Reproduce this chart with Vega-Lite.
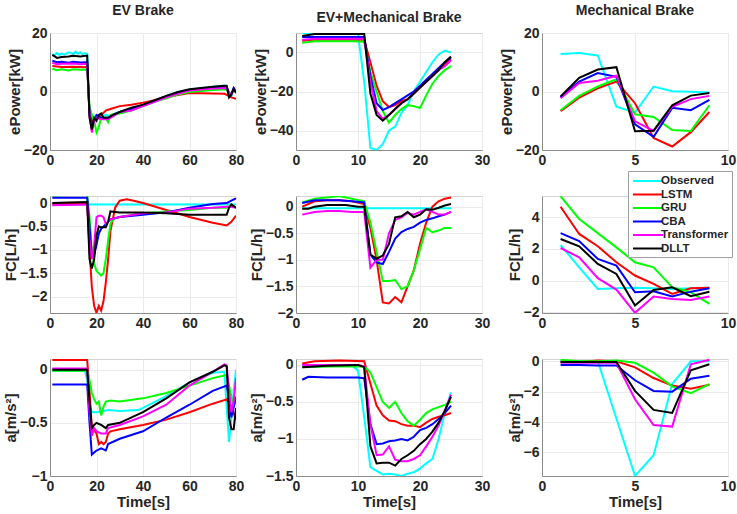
{
"$schema": "https://vega.github.io/schema/vega-lite/v6.json",
"background": "white",
"padding": {"left": 2, "top": 3, "right": 0, "bottom": 0},
"datasets": {
"d": [
{"p":1,"s":"Observed","x":1,"y":12.8},{"p":1,"s":"Observed","x":2,"y":12.3},{"p":1,"s":"Observed","x":3,"y":13.2},{"p":1,"s":"Observed","x":4,"y":12.5},{"p":1,"s":"Observed","x":5,"y":13.0},{"p":1,"s":"Observed","x":6,"y":12.6},{"p":1,"s":"Observed","x":8,"y":13.4},{"p":1,"s":"Observed","x":10,"y":12.8},{"p":1,"s":"Observed","x":11,"y":13.6},{"p":1,"s":"Observed","x":12,"y":12.9},{"p":1,"s":"Observed","x":13,"y":13.4},{"p":1,"s":"Observed","x":14,"y":12.7},{"p":1,"s":"Observed","x":15,"y":13.1},{"p":1,"s":"Observed","x":16,"y":12.8},{"p":1,"s":"Observed","x":17,"y":-8},{"p":1,"s":"Observed","x":18,"y":-10},{"p":1,"s":"Observed","x":19,"y":-8.5},{"p":1,"s":"Observed","x":20,"y":-9},{"p":1,"s":"Observed","x":22,"y":-8.5},{"p":1,"s":"Observed","x":24,"y":-8},{"p":1,"s":"Observed","x":26,"y":-8.5},{"p":1,"s":"Observed","x":28,"y":-7.5},{"p":1,"s":"Observed","x":30,"y":-7},{"p":1,"s":"Observed","x":35,"y":-6},{"p":1,"s":"Observed","x":40,"y":-4.8},{"p":1,"s":"Observed","x":45,"y":-3.2},{"p":1,"s":"Observed","x":50,"y":-1.5},{"p":1,"s":"Observed","x":55,"y":-0.2},{"p":1,"s":"Observed","x":60,"y":0.6},{"p":1,"s":"Observed","x":65,"y":1.2},{"p":1,"s":"Observed","x":70,"y":1.6},{"p":1,"s":"Observed","x":75,"y":2},{"p":1,"s":"Observed","x":76,"y":1.8},{"p":1,"s":"Observed","x":77,"y":-1},{"p":1,"s":"Observed","x":78,"y":-1.5},{"p":1,"s":"Observed","x":79,"y":0.8},{"p":1,"s":"Observed","x":80,"y":0.5},
{"p":1,"s":"LSTM","x":1,"y":8.7},{"p":1,"s":"LSTM","x":5,"y":8.4},{"p":1,"s":"LSTM","x":10,"y":8.5},{"p":1,"s":"LSTM","x":16,"y":8.3},{"p":1,"s":"LSTM","x":17,"y":-7},{"p":1,"s":"LSTM","x":18,"y":-10},{"p":1,"s":"LSTM","x":19,"y":-10},{"p":1,"s":"LSTM","x":20,"y":-9.5},{"p":1,"s":"LSTM","x":22,"y":-8},{"p":1,"s":"LSTM","x":24,"y":-6.5},{"p":1,"s":"LSTM","x":26,"y":-6},{"p":1,"s":"LSTM","x":30,"y":-5},{"p":1,"s":"LSTM","x":35,"y":-4.5},{"p":1,"s":"LSTM","x":40,"y":-3.8},{"p":1,"s":"LSTM","x":45,"y":-3},{"p":1,"s":"LSTM","x":50,"y":-2},{"p":1,"s":"LSTM","x":55,"y":-1.2},{"p":1,"s":"LSTM","x":60,"y":-0.5},{"p":1,"s":"LSTM","x":65,"y":-0.6},{"p":1,"s":"LSTM","x":70,"y":-0.7},{"p":1,"s":"LSTM","x":75,"y":-0.8},{"p":1,"s":"LSTM","x":77,"y":-1.5},{"p":1,"s":"LSTM","x":78,"y":-2},{"p":1,"s":"LSTM","x":80,"y":-2.5},
{"p":1,"s":"GRU","x":1,"y":7.8},{"p":1,"s":"GRU","x":3,"y":7.3},{"p":1,"s":"GRU","x":5,"y":7.6},{"p":1,"s":"GRU","x":8,"y":7.2},{"p":1,"s":"GRU","x":10,"y":7.6},{"p":1,"s":"GRU","x":13,"y":7.4},{"p":1,"s":"GRU","x":16,"y":7.5},{"p":1,"s":"GRU","x":17,"y":-5},{"p":1,"s":"GRU","x":18,"y":-8},{"p":1,"s":"GRU","x":19,"y":-10},{"p":1,"s":"GRU","x":20,"y":-14},{"p":1,"s":"GRU","x":21,"y":-12},{"p":1,"s":"GRU","x":22,"y":-9},{"p":1,"s":"GRU","x":24,"y":-9},{"p":1,"s":"GRU","x":25,"y":-10.5},{"p":1,"s":"GRU","x":26,"y":-8},{"p":1,"s":"GRU","x":30,"y":-7.5},{"p":1,"s":"GRU","x":35,"y":-6.5},{"p":1,"s":"GRU","x":40,"y":-5},{"p":1,"s":"GRU","x":45,"y":-3.5},{"p":1,"s":"GRU","x":50,"y":-2.3},{"p":1,"s":"GRU","x":55,"y":-1},{"p":1,"s":"GRU","x":60,"y":-0.2},{"p":1,"s":"GRU","x":65,"y":0.2},{"p":1,"s":"GRU","x":70,"y":0.5},{"p":1,"s":"GRU","x":76,"y":0.8},{"p":1,"s":"GRU","x":77,"y":-1},{"p":1,"s":"GRU","x":78,"y":-1},{"p":1,"s":"GRU","x":79,"y":0.5},{"p":1,"s":"GRU","x":80,"y":0},
{"p":1,"s":"CBA","x":1,"y":10.5},{"p":1,"s":"CBA","x":3,"y":10},{"p":1,"s":"CBA","x":5,"y":10.2},{"p":1,"s":"CBA","x":8,"y":9.8},{"p":1,"s":"CBA","x":10,"y":10.2},{"p":1,"s":"CBA","x":13,"y":9.9},{"p":1,"s":"CBA","x":16,"y":10},{"p":1,"s":"CBA","x":17,"y":-8},{"p":1,"s":"CBA","x":18,"y":-11},{"p":1,"s":"CBA","x":19,"y":-10},{"p":1,"s":"CBA","x":20,"y":-8},{"p":1,"s":"CBA","x":22,"y":-9},{"p":1,"s":"CBA","x":25,"y":-9},{"p":1,"s":"CBA","x":28,"y":-8},{"p":1,"s":"CBA","x":30,"y":-7},{"p":1,"s":"CBA","x":35,"y":-6},{"p":1,"s":"CBA","x":40,"y":-4.8},{"p":1,"s":"CBA","x":45,"y":-3.2},{"p":1,"s":"CBA","x":50,"y":-1.7},{"p":1,"s":"CBA","x":55,"y":-0.5},{"p":1,"s":"CBA","x":60,"y":0.5},{"p":1,"s":"CBA","x":65,"y":0.9},{"p":1,"s":"CBA","x":70,"y":1.2},{"p":1,"s":"CBA","x":76,"y":1.5},{"p":1,"s":"CBA","x":77,"y":-0.5},{"p":1,"s":"CBA","x":78,"y":-1},{"p":1,"s":"CBA","x":79,"y":1.2},{"p":1,"s":"CBA","x":80,"y":0},
{"p":1,"s":"Transformer","x":1,"y":9.8},{"p":1,"s":"Transformer","x":3,"y":9.3},{"p":1,"s":"Transformer","x":5,"y":9.5},{"p":1,"s":"Transformer","x":10,"y":9.6},{"p":1,"s":"Transformer","x":13,"y":9.3},{"p":1,"s":"Transformer","x":16,"y":9.5},{"p":1,"s":"Transformer","x":17,"y":-8},{"p":1,"s":"Transformer","x":18,"y":-14},{"p":1,"s":"Transformer","x":19,"y":-10},{"p":1,"s":"Transformer","x":20,"y":-9},{"p":1,"s":"Transformer","x":22,"y":-9.5},{"p":1,"s":"Transformer","x":25,"y":-9.5},{"p":1,"s":"Transformer","x":28,"y":-8},{"p":1,"s":"Transformer","x":30,"y":-7},{"p":1,"s":"Transformer","x":35,"y":-6.5},{"p":1,"s":"Transformer","x":40,"y":-5},{"p":1,"s":"Transformer","x":45,"y":-3.5},{"p":1,"s":"Transformer","x":50,"y":-2},{"p":1,"s":"Transformer","x":55,"y":-0.8},{"p":1,"s":"Transformer","x":60,"y":0.3},{"p":1,"s":"Transformer","x":65,"y":0.7},{"p":1,"s":"Transformer","x":70,"y":1},{"p":1,"s":"Transformer","x":76,"y":1.2},{"p":1,"s":"Transformer","x":77,"y":-0.5},{"p":1,"s":"Transformer","x":78,"y":-1},{"p":1,"s":"Transformer","x":79,"y":0.8},{"p":1,"s":"Transformer","x":80,"y":0.3},
{"p":1,"s":"DLLT","x":1,"y":12.5},{"p":1,"s":"DLLT","x":3,"y":11.5},{"p":1,"s":"DLLT","x":5,"y":11.8},{"p":1,"s":"DLLT","x":8,"y":12},{"p":1,"s":"DLLT","x":10,"y":12.2},{"p":1,"s":"DLLT","x":13,"y":12},{"p":1,"s":"DLLT","x":16,"y":12.3},{"p":1,"s":"DLLT","x":17,"y":-9},{"p":1,"s":"DLLT","x":18,"y":-13},{"p":1,"s":"DLLT","x":19,"y":-9},{"p":1,"s":"DLLT","x":20,"y":-10},{"p":1,"s":"DLLT","x":21,"y":-8},{"p":1,"s":"DLLT","x":22,"y":-7.5},{"p":1,"s":"DLLT","x":23,"y":-9},{"p":1,"s":"DLLT","x":25,"y":-9},{"p":1,"s":"DLLT","x":27,"y":-8},{"p":1,"s":"DLLT","x":30,"y":-7},{"p":1,"s":"DLLT","x":35,"y":-5.5},{"p":1,"s":"DLLT","x":40,"y":-4.5},{"p":1,"s":"DLLT","x":45,"y":-3},{"p":1,"s":"DLLT","x":50,"y":-1.5},{"p":1,"s":"DLLT","x":55,"y":-0.2},{"p":1,"s":"DLLT","x":60,"y":0.8},{"p":1,"s":"DLLT","x":65,"y":1.2},{"p":1,"s":"DLLT","x":70,"y":1.6},{"p":1,"s":"DLLT","x":75,"y":2},{"p":1,"s":"DLLT","x":76,"y":2},{"p":1,"s":"DLLT","x":77,"y":-2},{"p":1,"s":"DLLT","x":78,"y":-1},{"p":1,"s":"DLLT","x":79,"y":1},{"p":1,"s":"DLLT","x":80,"y":-0.5},

{"p":2,"s":"Observed","x":1,"y":10},{"p":2,"s":"Observed","x":2,"y":10},{"p":2,"s":"Observed","x":4,"y":10},{"p":2,"s":"Observed","x":6,"y":10.5},{"p":2,"s":"Observed","x":8,"y":10},{"p":2,"s":"Observed","x":10,"y":9.5},{"p":2,"s":"Observed","x":11,"y":-15},{"p":2,"s":"Observed","x":12,"y":-49},{"p":2,"s":"Observed","x":13,"y":-50},{"p":2,"s":"Observed","x":14,"y":-47},{"p":2,"s":"Observed","x":15,"y":-40},{"p":2,"s":"Observed","x":16,"y":-38},{"p":2,"s":"Observed","x":17,"y":-31},{"p":2,"s":"Observed","x":18,"y":-27},{"p":2,"s":"Observed","x":19,"y":-20},{"p":2,"s":"Observed","x":20,"y":-15},{"p":2,"s":"Observed","x":21,"y":-10},{"p":2,"s":"Observed","x":22,"y":-5},{"p":2,"s":"Observed","x":23,"y":-1},{"p":2,"s":"Observed","x":24,"y":1},{"p":2,"s":"Observed","x":25,"y":0},
{"p":2,"s":"LSTM","x":1,"y":6},{"p":2,"s":"LSTM","x":3,"y":6.5},{"p":2,"s":"LSTM","x":5,"y":6.5},{"p":2,"s":"LSTM","x":7,"y":6.5},{"p":2,"s":"LSTM","x":9,"y":6.5},{"p":2,"s":"LSTM","x":11,"y":6.5},{"p":2,"s":"LSTM","x":12,"y":-5},{"p":2,"s":"LSTM","x":13,"y":-17},{"p":2,"s":"LSTM","x":14,"y":-25},{"p":2,"s":"LSTM","x":15,"y":-28},{"p":2,"s":"LSTM","x":16,"y":-27},{"p":2,"s":"LSTM","x":17,"y":-25},{"p":2,"s":"LSTM","x":18,"y":-24},{"p":2,"s":"LSTM","x":19,"y":-21},{"p":2,"s":"LSTM","x":20,"y":-18},{"p":2,"s":"LSTM","x":21,"y":-15},{"p":2,"s":"LSTM","x":22,"y":-12},{"p":2,"s":"LSTM","x":23,"y":-9},{"p":2,"s":"LSTM","x":24,"y":-6},{"p":2,"s":"LSTM","x":25,"y":-3.5},
{"p":2,"s":"GRU","x":1,"y":5},{"p":2,"s":"GRU","x":3,"y":5.8},{"p":2,"s":"GRU","x":5,"y":5.8},{"p":2,"s":"GRU","x":7,"y":5.8},{"p":2,"s":"GRU","x":9,"y":5.8},{"p":2,"s":"GRU","x":11,"y":5.5},{"p":2,"s":"GRU","x":12,"y":-10},{"p":2,"s":"GRU","x":13,"y":-20},{"p":2,"s":"GRU","x":14,"y":-30},{"p":2,"s":"GRU","x":15,"y":-36},{"p":2,"s":"GRU","x":16,"y":-32},{"p":2,"s":"GRU","x":17,"y":-29},{"p":2,"s":"GRU","x":18,"y":-27},{"p":2,"s":"GRU","x":19,"y":-27.5},{"p":2,"s":"GRU","x":20,"y":-28.5},{"p":2,"s":"GRU","x":21,"y":-22},{"p":2,"s":"GRU","x":22,"y":-16},{"p":2,"s":"GRU","x":23,"y":-12},{"p":2,"s":"GRU","x":24,"y":-9},{"p":2,"s":"GRU","x":25,"y":-7},
{"p":2,"s":"CBA","x":1,"y":8},{"p":2,"s":"CBA","x":3,"y":8},{"p":2,"s":"CBA","x":5,"y":8},{"p":2,"s":"CBA","x":7,"y":8},{"p":2,"s":"CBA","x":9,"y":8},{"p":2,"s":"CBA","x":11,"y":8},{"p":2,"s":"CBA","x":12,"y":-12},{"p":2,"s":"CBA","x":13,"y":-26},{"p":2,"s":"CBA","x":14,"y":-29.5},{"p":2,"s":"CBA","x":15,"y":-28},{"p":2,"s":"CBA","x":16,"y":-26},{"p":2,"s":"CBA","x":17,"y":-24},{"p":2,"s":"CBA","x":18,"y":-22},{"p":2,"s":"CBA","x":19,"y":-20},{"p":2,"s":"CBA","x":20,"y":-17},{"p":2,"s":"CBA","x":21,"y":-14},{"p":2,"s":"CBA","x":22,"y":-11},{"p":2,"s":"CBA","x":23,"y":-8},{"p":2,"s":"CBA","x":24,"y":-5},{"p":2,"s":"CBA","x":25,"y":-2.5},
{"p":2,"s":"Transformer","x":1,"y":6.5},{"p":2,"s":"Transformer","x":3,"y":7},{"p":2,"s":"Transformer","x":5,"y":7},{"p":2,"s":"Transformer","x":7,"y":7},{"p":2,"s":"Transformer","x":9,"y":7},{"p":2,"s":"Transformer","x":11,"y":7},{"p":2,"s":"Transformer","x":12,"y":-15},{"p":2,"s":"Transformer","x":13,"y":-30},{"p":2,"s":"Transformer","x":14,"y":-34},{"p":2,"s":"Transformer","x":15,"y":-32},{"p":2,"s":"Transformer","x":16,"y":-29},{"p":2,"s":"Transformer","x":17,"y":-26},{"p":2,"s":"Transformer","x":18,"y":-24},{"p":2,"s":"Transformer","x":19,"y":-21},{"p":2,"s":"Transformer","x":20,"y":-18},{"p":2,"s":"Transformer","x":21,"y":-15},{"p":2,"s":"Transformer","x":22,"y":-12},{"p":2,"s":"Transformer","x":23,"y":-9},{"p":2,"s":"Transformer","x":24,"y":-7},{"p":2,"s":"Transformer","x":25,"y":-4},
{"p":2,"s":"DLLT","x":1,"y":8.5},{"p":2,"s":"DLLT","x":3,"y":9.5},{"p":2,"s":"DLLT","x":5,"y":9.5},{"p":2,"s":"DLLT","x":7,"y":9.5},{"p":2,"s":"DLLT","x":9,"y":9.5},{"p":2,"s":"DLLT","x":11,"y":9.5},{"p":2,"s":"DLLT","x":12,"y":-21},{"p":2,"s":"DLLT","x":13,"y":-32},{"p":2,"s":"DLLT","x":14,"y":-35},{"p":2,"s":"DLLT","x":15,"y":-32},{"p":2,"s":"DLLT","x":16,"y":-29},{"p":2,"s":"DLLT","x":17,"y":-26},{"p":2,"s":"DLLT","x":18,"y":-24},{"p":2,"s":"DLLT","x":19,"y":-21},{"p":2,"s":"DLLT","x":20,"y":-18},{"p":2,"s":"DLLT","x":21,"y":-15},{"p":2,"s":"DLLT","x":22,"y":-12},{"p":2,"s":"DLLT","x":23,"y":-9},{"p":2,"s":"DLLT","x":24,"y":-5},{"p":2,"s":"DLLT","x":25,"y":-2},

{"p":3,"s":"Observed","x":1,"y":12.8},{"p":3,"s":"Observed","x":2,"y":13.2},{"p":3,"s":"Observed","x":3,"y":12.3},{"p":3,"s":"Observed","x":4,"y":-5.2},{"p":3,"s":"Observed","x":5,"y":-7.2},{"p":3,"s":"Observed","x":6,"y":1.7},{"p":3,"s":"Observed","x":7,"y":0.1},{"p":3,"s":"Observed","x":8,"y":-0.1},{"p":3,"s":"Observed","x":9,"y":-0.3},
{"p":3,"s":"LSTM","x":1,"y":-6.7},{"p":3,"s":"LSTM","x":2,"y":-2.1},{"p":3,"s":"LSTM","x":3,"y":1.1},{"p":3,"s":"LSTM","x":4,"y":3.4},{"p":3,"s":"LSTM","x":5,"y":-4},{"p":3,"s":"LSTM","x":6,"y":-15.9},{"p":3,"s":"LSTM","x":7,"y":-18.8},{"p":3,"s":"LSTM","x":8,"y":-13.9},{"p":3,"s":"LSTM","x":9,"y":-7},
{"p":3,"s":"GRU","x":1,"y":-6.4},{"p":3,"s":"GRU","x":2,"y":-1.5},{"p":3,"s":"GRU","x":3,"y":1.7},{"p":3,"s":"GRU","x":4,"y":4.2},{"p":3,"s":"GRU","x":5,"y":-7.8},{"p":3,"s":"GRU","x":6,"y":-8.7},{"p":3,"s":"GRU","x":7,"y":-13.2},{"p":3,"s":"GRU","x":8,"y":-13.5},{"p":3,"s":"GRU","x":9,"y":-4.7},
{"p":3,"s":"CBA","x":1,"y":-2},{"p":3,"s":"CBA","x":2,"y":3.4},{"p":3,"s":"CBA","x":3,"y":6.3},{"p":3,"s":"CBA","x":4,"y":5},{"p":3,"s":"CBA","x":5,"y":-11.2},{"p":3,"s":"CBA","x":6,"y":-15.5},{"p":3,"s":"CBA","x":7,"y":-5.6},{"p":3,"s":"CBA","x":8,"y":-6.4},{"p":3,"s":"CBA","x":9,"y":-2.9},
{"p":3,"s":"Transformer","x":1,"y":-2.3},{"p":3,"s":"Transformer","x":2,"y":2.9},{"p":3,"s":"Transformer","x":3,"y":3.7},{"p":3,"s":"Transformer","x":4,"y":5.4},{"p":3,"s":"Transformer","x":5,"y":-10.2},{"p":3,"s":"Transformer","x":6,"y":-13.5},{"p":3,"s":"Transformer","x":7,"y":-5.2},{"p":3,"s":"Transformer","x":8,"y":-2.6},{"p":3,"s":"Transformer","x":9,"y":-1.5},
{"p":3,"s":"DLLT","x":1,"y":-1.7},{"p":3,"s":"DLLT","x":2,"y":4.7},{"p":3,"s":"DLLT","x":3,"y":7.5},{"p":3,"s":"DLLT","x":4,"y":8.3},{"p":3,"s":"DLLT","x":5,"y":-13.6},{"p":3,"s":"DLLT","x":6,"y":-13.4},{"p":3,"s":"DLLT","x":7,"y":-4.7},{"p":3,"s":"DLLT","x":8,"y":-1.4},{"p":3,"s":"DLLT","x":9,"y":-0.5},

{"p":4,"s":"Observed","x":1,"y":-0.03},{"p":4,"s":"Observed","x":20,"y":-0.03},{"p":4,"s":"Observed","x":40,"y":-0.03},{"p":4,"s":"Observed","x":60,"y":-0.03},{"p":4,"s":"Observed","x":80,"y":-0.03},
{"p":4,"s":"LSTM","x":1,"y":-0.02},{"p":4,"s":"LSTM","x":8,"y":-0.01},{"p":4,"s":"LSTM","x":16,"y":0},{"p":4,"s":"LSTM","x":17,"y":-1.0},{"p":4,"s":"LSTM","x":18,"y":-1.8},{"p":4,"s":"LSTM","x":19,"y":-2.2},{"p":4,"s":"LSTM","x":20,"y":-2.35},{"p":4,"s":"LSTM","x":21,"y":-2.2},{"p":4,"s":"LSTM","x":22,"y":-2.3},{"p":4,"s":"LSTM","x":23,"y":-2.1},{"p":4,"s":"LSTM","x":24,"y":-1.7},{"p":4,"s":"LSTM","x":25,"y":-1.2},{"p":4,"s":"LSTM","x":26,"y":-0.6},{"p":4,"s":"LSTM","x":28,"y":-0.1},{"p":4,"s":"LSTM","x":30,"y":0.05},{"p":4,"s":"LSTM","x":33,"y":0.08},{"p":4,"s":"LSTM","x":36,"y":0.05},{"p":4,"s":"LSTM","x":40,"y":0},{"p":4,"s":"LSTM","x":50,"y":-0.15},{"p":4,"s":"LSTM","x":60,"y":-0.3},{"p":4,"s":"LSTM","x":70,"y":-0.42},{"p":4,"s":"LSTM","x":76,"y":-0.48},{"p":4,"s":"LSTM","x":78,"y":-0.4},{"p":4,"s":"LSTM","x":80,"y":-0.27},
{"p":4,"s":"GRU","x":1,"y":0.16},{"p":4,"s":"GRU","x":8,"y":0.17},{"p":4,"s":"GRU","x":16,"y":0.17},{"p":4,"s":"GRU","x":17,"y":-0.3},{"p":4,"s":"GRU","x":18,"y":-1.0},{"p":4,"s":"GRU","x":19,"y":-1.3},{"p":4,"s":"GRU","x":20,"y":-1.45},{"p":4,"s":"GRU","x":22,"y":-1.55},{"p":4,"s":"GRU","x":23,"y":-1.5},{"p":4,"s":"GRU","x":24,"y":-1.2},{"p":4,"s":"GRU","x":25,"y":-0.8},{"p":4,"s":"GRU","x":26,"y":-0.45},{"p":4,"s":"GRU","x":27,"y":-0.35},{"p":4,"s":"GRU","x":30,"y":-0.3},{"p":4,"s":"GRU","x":40,"y":-0.22},{"p":4,"s":"GRU","x":50,"y":-0.18},{"p":4,"s":"GRU","x":60,"y":-0.15},{"p":4,"s":"GRU","x":70,"y":-0.1},{"p":4,"s":"GRU","x":76,"y":-0.1},{"p":4,"s":"GRU","x":78,"y":-0.05},{"p":4,"s":"GRU","x":80,"y":-0.1},
{"p":4,"s":"CBA","x":1,"y":0.11},{"p":4,"s":"CBA","x":8,"y":0.11},{"p":4,"s":"CBA","x":16,"y":0.11},{"p":4,"s":"CBA","x":17,"y":-0.5},{"p":4,"s":"CBA","x":18,"y":-1.15},{"p":4,"s":"CBA","x":19,"y":-1.1},{"p":4,"s":"CBA","x":20,"y":-0.9},{"p":4,"s":"CBA","x":21,"y":-0.65},{"p":4,"s":"CBA","x":22,"y":-0.55},{"p":4,"s":"CBA","x":24,"y":-0.45},{"p":4,"s":"CBA","x":26,"y":-0.35},{"p":4,"s":"CBA","x":30,"y":-0.3},{"p":4,"s":"CBA","x":40,"y":-0.25},{"p":4,"s":"CBA","x":50,"y":-0.2},{"p":4,"s":"CBA","x":60,"y":-0.1},{"p":4,"s":"CBA","x":70,"y":-0.02},{"p":4,"s":"CBA","x":76,"y":0},{"p":4,"s":"CBA","x":78,"y":0.05},{"p":4,"s":"CBA","x":80,"y":0.1},
{"p":4,"s":"Transformer","x":1,"y":-0.05},{"p":4,"s":"Transformer","x":8,"y":-0.04},{"p":4,"s":"Transformer","x":16,"y":-0.03},{"p":4,"s":"Transformer","x":17,"y":-0.8},{"p":4,"s":"Transformer","x":18,"y":-1.2},{"p":4,"s":"Transformer","x":19,"y":-0.9},{"p":4,"s":"Transformer","x":20,"y":-0.3},{"p":4,"s":"Transformer","x":21,"y":-0.27},{"p":4,"s":"Transformer","x":22,"y":-0.27},{"p":4,"s":"Transformer","x":23,"y":-0.3},{"p":4,"s":"Transformer","x":24,"y":-0.45},{"p":4,"s":"Transformer","x":25,"y":-0.4},{"p":4,"s":"Transformer","x":26,"y":-0.35},{"p":4,"s":"Transformer","x":30,"y":-0.3},{"p":4,"s":"Transformer","x":40,"y":-0.22},{"p":4,"s":"Transformer","x":50,"y":-0.2},{"p":4,"s":"Transformer","x":60,"y":-0.12},{"p":4,"s":"Transformer","x":70,"y":-0.1},{"p":4,"s":"Transformer","x":76,"y":-0.08},{"p":4,"s":"Transformer","x":78,"y":-0.08},{"p":4,"s":"Transformer","x":80,"y":-0.1},
{"p":4,"s":"DLLT","x":1,"y":0},{"p":4,"s":"DLLT","x":8,"y":0.01},{"p":4,"s":"DLLT","x":16,"y":0.02},{"p":4,"s":"DLLT","x":17,"y":-1.2},{"p":4,"s":"DLLT","x":18,"y":-1.4},{"p":4,"s":"DLLT","x":19,"y":-1.2},{"p":4,"s":"DLLT","x":20,"y":-0.7},{"p":4,"s":"DLLT","x":21,"y":-0.5},{"p":4,"s":"DLLT","x":22,"y":-0.52},{"p":4,"s":"DLLT","x":24,"y":-0.52},{"p":4,"s":"DLLT","x":25,"y":-0.4},{"p":4,"s":"DLLT","x":26,"y":-0.18},{"p":4,"s":"DLLT","x":30,"y":-0.2},{"p":4,"s":"DLLT","x":40,"y":-0.2},{"p":4,"s":"DLLT","x":50,"y":-0.22},{"p":4,"s":"DLLT","x":60,"y":-0.25},{"p":4,"s":"DLLT","x":70,"y":-0.25},{"p":4,"s":"DLLT","x":76,"y":-0.25},{"p":4,"s":"DLLT","x":77,"y":-0.1},{"p":4,"s":"DLLT","x":78,"y":-0.03},{"p":4,"s":"DLLT","x":80,"y":-0.1},

{"p":5,"s":"Observed","x":1,"y":-0.03},{"p":5,"s":"Observed","x":5,"y":-0.03},{"p":5,"s":"Observed","x":10,"y":-0.03},{"p":5,"s":"Observed","x":15,"y":-0.03},{"p":5,"s":"Observed","x":20,"y":-0.03},{"p":5,"s":"Observed","x":25,"y":-0.03},
{"p":5,"s":"LSTM","x":1,"y":0},{"p":5,"s":"LSTM","x":3,"y":0.1},{"p":5,"s":"LSTM","x":5,"y":0.12},{"p":5,"s":"LSTM","x":7,"y":0.12},{"p":5,"s":"LSTM","x":9,"y":0.1},{"p":5,"s":"LSTM","x":11,"y":0.05},{"p":5,"s":"LSTM","x":12,"y":-0.4},{"p":5,"s":"LSTM","x":13,"y":-1.0},{"p":5,"s":"LSTM","x":14,"y":-1.8},{"p":5,"s":"LSTM","x":15,"y":-1.82},{"p":5,"s":"LSTM","x":16,"y":-1.7},{"p":5,"s":"LSTM","x":17,"y":-1.8},{"p":5,"s":"LSTM","x":18,"y":-1.5},{"p":5,"s":"LSTM","x":19,"y":-1.2},{"p":5,"s":"LSTM","x":20,"y":-0.7},{"p":5,"s":"LSTM","x":21,"y":-0.3},{"p":5,"s":"LSTM","x":22,"y":0},{"p":5,"s":"LSTM","x":23,"y":0.1},{"p":5,"s":"LSTM","x":24,"y":0.15},{"p":5,"s":"LSTM","x":25,"y":0.17},
{"p":5,"s":"GRU","x":1,"y":0.08},{"p":5,"s":"GRU","x":3,"y":0.15},{"p":5,"s":"GRU","x":5,"y":0.17},{"p":5,"s":"GRU","x":7,"y":0.2},{"p":5,"s":"GRU","x":9,"y":0.15},{"p":5,"s":"GRU","x":11,"y":0.1},{"p":5,"s":"GRU","x":12,"y":-0.3},{"p":5,"s":"GRU","x":13,"y":-0.85},{"p":5,"s":"GRU","x":14,"y":-1.4},{"p":5,"s":"GRU","x":15,"y":-1.4},{"p":5,"s":"GRU","x":16,"y":-1.38},{"p":5,"s":"GRU","x":17,"y":-1.55},{"p":5,"s":"GRU","x":18,"y":-1.5},{"p":5,"s":"GRU","x":19,"y":-1.2},{"p":5,"s":"GRU","x":20,"y":-0.8},{"p":5,"s":"GRU","x":21,"y":-0.4},{"p":5,"s":"GRU","x":22,"y":-0.48},{"p":5,"s":"GRU","x":23,"y":-0.45},{"p":5,"s":"GRU","x":24,"y":-0.4},{"p":5,"s":"GRU","x":25,"y":-0.4},
{"p":5,"s":"CBA","x":1,"y":0.07},{"p":5,"s":"CBA","x":3,"y":0.12},{"p":5,"s":"CBA","x":5,"y":0.12},{"p":5,"s":"CBA","x":7,"y":0.12},{"p":5,"s":"CBA","x":9,"y":0.1},{"p":5,"s":"CBA","x":11,"y":0.08},{"p":5,"s":"CBA","x":12,"y":-0.9},{"p":5,"s":"CBA","x":13,"y":-1.05},{"p":5,"s":"CBA","x":14,"y":-1.08},{"p":5,"s":"CBA","x":15,"y":-0.85},{"p":5,"s":"CBA","x":16,"y":-0.6},{"p":5,"s":"CBA","x":17,"y":-0.48},{"p":5,"s":"CBA","x":18,"y":-0.42},{"p":5,"s":"CBA","x":19,"y":-0.38},{"p":5,"s":"CBA","x":20,"y":-0.3},{"p":5,"s":"CBA","x":21,"y":-0.25},{"p":5,"s":"CBA","x":22,"y":-0.22},{"p":5,"s":"CBA","x":23,"y":-0.18},{"p":5,"s":"CBA","x":24,"y":-0.15},{"p":5,"s":"CBA","x":25,"y":-0.1},
{"p":5,"s":"Transformer","x":1,"y":-0.15},{"p":5,"s":"Transformer","x":3,"y":-0.1},{"p":5,"s":"Transformer","x":5,"y":-0.08},{"p":5,"s":"Transformer","x":7,"y":-0.08},{"p":5,"s":"Transformer","x":9,"y":-0.1},{"p":5,"s":"Transformer","x":11,"y":-0.1},{"p":5,"s":"Transformer","x":12,"y":-1.15},{"p":5,"s":"Transformer","x":13,"y":-1.0},{"p":5,"s":"Transformer","x":14,"y":-1.0},{"p":5,"s":"Transformer","x":15,"y":-0.5},{"p":5,"s":"Transformer","x":16,"y":-0.25},{"p":5,"s":"Transformer","x":17,"y":-0.2},{"p":5,"s":"Transformer","x":18,"y":-0.12},{"p":5,"s":"Transformer","x":19,"y":-0.15},{"p":5,"s":"Transformer","x":20,"y":-0.1},{"p":5,"s":"Transformer","x":21,"y":-0.05},{"p":5,"s":"Transformer","x":22,"y":-0.1},{"p":5,"s":"Transformer","x":23,"y":-0.15},{"p":5,"s":"Transformer","x":24,"y":-0.15},{"p":5,"s":"Transformer","x":25,"y":-0.1},
{"p":5,"s":"DLLT","x":1,"y":-0.04},{"p":5,"s":"DLLT","x":2,"y":-0.04},{"p":5,"s":"DLLT","x":3,"y":0},{"p":5,"s":"DLLT","x":5,"y":0.03},{"p":5,"s":"DLLT","x":8,"y":0.03},{"p":5,"s":"DLLT","x":10,"y":0},{"p":5,"s":"DLLT","x":11,"y":0},{"p":5,"s":"DLLT","x":12,"y":-0.9},{"p":5,"s":"DLLT","x":13,"y":-0.98},{"p":5,"s":"DLLT","x":14,"y":-0.92},{"p":5,"s":"DLLT","x":15,"y":-0.7},{"p":5,"s":"DLLT","x":16,"y":-0.2},{"p":5,"s":"DLLT","x":17,"y":-0.18},{"p":5,"s":"DLLT","x":18,"y":-0.1},{"p":5,"s":"DLLT","x":19,"y":-0.2},{"p":5,"s":"DLLT","x":20,"y":-0.15},{"p":5,"s":"DLLT","x":21,"y":-0.05},{"p":5,"s":"DLLT","x":22,"y":-0.06},{"p":5,"s":"DLLT","x":23,"y":-0.02},{"p":5,"s":"DLLT","x":24,"y":0.02},{"p":5,"s":"DLLT","x":25,"y":0.05},

{"p":6,"s":"Observed","x":1,"y":2.25},{"p":6,"s":"Observed","x":2,"y":0.84},{"p":6,"s":"Observed","x":3,"y":-0.53},{"p":6,"s":"Observed","x":4,"y":-0.48},{"p":6,"s":"Observed","x":5,"y":-0.46},{"p":6,"s":"Observed","x":6,"y":-0.48},{"p":6,"s":"Observed","x":7,"y":-0.53},{"p":6,"s":"Observed","x":8,"y":-0.48},{"p":6,"s":"Observed","x":9,"y":-0.46},
{"p":6,"s":"LSTM","x":1,"y":4.67},{"p":6,"s":"LSTM","x":2,"y":2.95},{"p":6,"s":"LSTM","x":3,"y":2.17},{"p":6,"s":"LSTM","x":4,"y":1.16},{"p":6,"s":"LSTM","x":5,"y":0.32},{"p":6,"s":"LSTM","x":6,"y":-0.21},{"p":6,"s":"LSTM","x":7,"y":-0.84},{"p":6,"s":"LSTM","x":8,"y":-0.48},{"p":6,"s":"LSTM","x":9,"y":-0.46},
{"p":6,"s":"GRU","x":1,"y":5.33},{"p":6,"s":"GRU","x":2,"y":3.9},{"p":6,"s":"GRU","x":3,"y":3.0},{"p":6,"s":"GRU","x":4,"y":2.1},{"p":6,"s":"GRU","x":5,"y":1.16},{"p":6,"s":"GRU","x":6,"y":0.84},{"p":6,"s":"GRU","x":7,"y":-0.42},{"p":6,"s":"GRU","x":8,"y":-0.74},{"p":6,"s":"GRU","x":9,"y":-1.47},
{"p":6,"s":"CBA","x":1,"y":3.0},{"p":6,"s":"CBA","x":2,"y":2.5},{"p":6,"s":"CBA","x":3,"y":1.37},{"p":6,"s":"CBA","x":4,"y":0.95},{"p":6,"s":"CBA","x":5,"y":-0.74},{"p":6,"s":"CBA","x":6,"y":-0.67},{"p":6,"s":"CBA","x":7,"y":-1.0},{"p":6,"s":"CBA","x":8,"y":-0.7},{"p":6,"s":"CBA","x":9,"y":-0.48},
{"p":6,"s":"Transformer","x":1,"y":2.06},{"p":6,"s":"Transformer","x":2,"y":1.47},{"p":6,"s":"Transformer","x":3,"y":0.15},{"p":6,"s":"Transformer","x":4,"y":-0.57},{"p":6,"s":"Transformer","x":5,"y":-2.04},{"p":6,"s":"Transformer","x":6,"y":-1.01},{"p":6,"s":"Transformer","x":7,"y":-1.16},{"p":6,"s":"Transformer","x":8,"y":-1.22},{"p":6,"s":"Transformer","x":9,"y":-1.01},
{"p":6,"s":"DLLT","x":1,"y":2.63},{"p":6,"s":"DLLT","x":2,"y":2.17},{"p":6,"s":"DLLT","x":3,"y":1.05},{"p":6,"s":"DLLT","x":4,"y":0.42},{"p":6,"s":"DLLT","x":5,"y":-1.58},{"p":6,"s":"DLLT","x":6,"y":-0.59},{"p":6,"s":"DLLT","x":7,"y":-0.42},{"p":6,"s":"DLLT","x":8,"y":-0.99},{"p":6,"s":"DLLT","x":9,"y":-0.7},

{"p":7,"s":"Observed","x":1,"y":-0.01},{"p":7,"s":"Observed","x":15,"y":-0.01},{"p":7,"s":"Observed","x":16,"y":-0.1},{"p":7,"s":"Observed","x":17,"y":-0.3},{"p":7,"s":"Observed","x":18,"y":-0.4},{"p":7,"s":"Observed","x":20,"y":-0.4},{"p":7,"s":"Observed","x":25,"y":-0.38},{"p":7,"s":"Observed","x":30,"y":-0.39},{"p":7,"s":"Observed","x":38,"y":-0.38},{"p":7,"s":"Observed","x":40,"y":-0.36},{"p":7,"s":"Observed","x":50,"y":-0.25},{"p":7,"s":"Observed","x":60,"y":-0.12},{"p":7,"s":"Observed","x":70,"y":-0.03},{"p":7,"s":"Observed","x":75,"y":-0.02},{"p":7,"s":"Observed","x":76,"y":-0.35},{"p":7,"s":"Observed","x":77,"y":-0.68},{"p":7,"s":"Observed","x":78,"y":-0.45},{"p":7,"s":"Observed","x":79,"y":-0.2},{"p":7,"s":"Observed","x":80,"y":0},
{"p":7,"s":"LSTM","x":1,"y":0.09},{"p":7,"s":"LSTM","x":16,"y":0.09},{"p":7,"s":"LSTM","x":17,"y":-0.2},{"p":7,"s":"LSTM","x":18,"y":-0.55},{"p":7,"s":"LSTM","x":20,"y":-0.6},{"p":7,"s":"LSTM","x":21,"y":-0.7},{"p":7,"s":"LSTM","x":22,"y":-0.68},{"p":7,"s":"LSTM","x":23,"y":-0.7},{"p":7,"s":"LSTM","x":24,"y":-0.68},{"p":7,"s":"LSTM","x":25,"y":-0.6},{"p":7,"s":"LSTM","x":26,"y":-0.58},{"p":7,"s":"LSTM","x":30,"y":-0.56},{"p":7,"s":"LSTM","x":40,"y":-0.52},{"p":7,"s":"LSTM","x":50,"y":-0.47},{"p":7,"s":"LSTM","x":60,"y":-0.4},{"p":7,"s":"LSTM","x":70,"y":-0.32},{"p":7,"s":"LSTM","x":76,"y":-0.28},{"p":7,"s":"LSTM","x":78,"y":-0.35},{"p":7,"s":"LSTM","x":80,"y":-0.47},
{"p":7,"s":"GRU","x":1,"y":-0.01},{"p":7,"s":"GRU","x":16,"y":-0.01},{"p":7,"s":"GRU","x":17,"y":-0.1},{"p":7,"s":"GRU","x":18,"y":-0.22},{"p":7,"s":"GRU","x":19,"y":-0.28},{"p":7,"s":"GRU","x":20,"y":-0.32},{"p":7,"s":"GRU","x":21,"y":-0.3},{"p":7,"s":"GRU","x":22,"y":-0.43},{"p":7,"s":"GRU","x":23,"y":-0.35},{"p":7,"s":"GRU","x":24,"y":-0.3},{"p":7,"s":"GRU","x":26,"y":-0.29},{"p":7,"s":"GRU","x":30,"y":-0.3},{"p":7,"s":"GRU","x":40,"y":-0.27},{"p":7,"s":"GRU","x":50,"y":-0.22},{"p":7,"s":"GRU","x":60,"y":-0.15},{"p":7,"s":"GRU","x":70,"y":-0.08},{"p":7,"s":"GRU","x":76,"y":-0.05},{"p":7,"s":"GRU","x":78,"y":-0.25},{"p":7,"s":"GRU","x":79,"y":-0.35},{"p":7,"s":"GRU","x":80,"y":-0.25},
{"p":7,"s":"CBA","x":1,"y":-0.14},{"p":7,"s":"CBA","x":16,"y":-0.14},{"p":7,"s":"CBA","x":17,"y":-0.5},{"p":7,"s":"CBA","x":18,"y":-0.8},{"p":7,"s":"CBA","x":19,"y":-0.78},{"p":7,"s":"CBA","x":20,"y":-0.76},{"p":7,"s":"CBA","x":22,"y":-0.74},{"p":7,"s":"CBA","x":23,"y":-0.75},{"p":7,"s":"CBA","x":24,"y":-0.76},{"p":7,"s":"CBA","x":25,"y":-0.7},{"p":7,"s":"CBA","x":30,"y":-0.65},{"p":7,"s":"CBA","x":40,"y":-0.58},{"p":7,"s":"CBA","x":50,"y":-0.45},{"p":7,"s":"CBA","x":60,"y":-0.33},{"p":7,"s":"CBA","x":70,"y":-0.2},{"p":7,"s":"CBA","x":76,"y":-0.15},{"p":7,"s":"CBA","x":77,"y":-0.25},{"p":7,"s":"CBA","x":78,"y":-0.45},{"p":7,"s":"CBA","x":80,"y":-0.26},
{"p":7,"s":"Transformer","x":1,"y":0.01},{"p":7,"s":"Transformer","x":16,"y":0.01},{"p":7,"s":"Transformer","x":17,"y":-0.4},{"p":7,"s":"Transformer","x":18,"y":-0.62},{"p":7,"s":"Transformer","x":19,"y":-0.55},{"p":7,"s":"Transformer","x":20,"y":-0.58},{"p":7,"s":"Transformer","x":22,"y":-0.6},{"p":7,"s":"Transformer","x":24,"y":-0.6},{"p":7,"s":"Transformer","x":25,"y":-0.55},{"p":7,"s":"Transformer","x":30,"y":-0.52},{"p":7,"s":"Transformer","x":40,"y":-0.44},{"p":7,"s":"Transformer","x":50,"y":-0.33},{"p":7,"s":"Transformer","x":60,"y":-0.15},{"p":7,"s":"Transformer","x":70,"y":-0.02},{"p":7,"s":"Transformer","x":75,"y":0.05},{"p":7,"s":"Transformer","x":76,"y":0.04},{"p":7,"s":"Transformer","x":77,"y":-0.2},{"p":7,"s":"Transformer","x":78,"y":-0.4},{"p":7,"s":"Transformer","x":79,"y":-0.3},{"p":7,"s":"Transformer","x":80,"y":-0.08},
{"p":7,"s":"DLLT","x":1,"y":0},{"p":7,"s":"DLLT","x":16,"y":0},{"p":7,"s":"DLLT","x":17,"y":-0.3},{"p":7,"s":"DLLT","x":18,"y":-0.55},{"p":7,"s":"DLLT","x":19,"y":-0.52},{"p":7,"s":"DLLT","x":20,"y":-0.5},{"p":7,"s":"DLLT","x":22,"y":-0.52},{"p":7,"s":"DLLT","x":24,"y":-0.55},{"p":7,"s":"DLLT","x":25,"y":-0.52},{"p":7,"s":"DLLT","x":30,"y":-0.5},{"p":7,"s":"DLLT","x":40,"y":-0.4},{"p":7,"s":"DLLT","x":50,"y":-0.27},{"p":7,"s":"DLLT","x":60,"y":-0.12},{"p":7,"s":"DLLT","x":70,"y":-0.02},{"p":7,"s":"DLLT","x":75,"y":0.04},{"p":7,"s":"DLLT","x":76,"y":0.03},{"p":7,"s":"DLLT","x":77,"y":-0.45},{"p":7,"s":"DLLT","x":78,"y":-0.56},{"p":7,"s":"DLLT","x":79,"y":-0.56},{"p":7,"s":"DLLT","x":80,"y":-0.36},

{"p":8,"s":"Observed","x":1,"y":-0.02},{"p":8,"s":"Observed","x":5,"y":-0.01},{"p":8,"s":"Observed","x":9,"y":0},{"p":8,"s":"Observed","x":10,"y":-0.08},{"p":8,"s":"Observed","x":11,"y":-0.7},{"p":8,"s":"Observed","x":12,"y":-1.38},{"p":8,"s":"Observed","x":13,"y":-1.43},{"p":8,"s":"Observed","x":14,"y":-1.48},{"p":8,"s":"Observed","x":15,"y":-1.47},{"p":8,"s":"Observed","x":16,"y":-1.48},{"p":8,"s":"Observed","x":17,"y":-1.5},{"p":8,"s":"Observed","x":18,"y":-1.47},{"p":8,"s":"Observed","x":19,"y":-1.45},{"p":8,"s":"Observed","x":20,"y":-1.4},{"p":8,"s":"Observed","x":21,"y":-1.33},{"p":8,"s":"Observed","x":22,"y":-1.27},{"p":8,"s":"Observed","x":23,"y":-1.0},{"p":8,"s":"Observed","x":24,"y":-0.65},{"p":8,"s":"Observed","x":25,"y":-0.37},
{"p":8,"s":"LSTM","x":1,"y":0.02},{"p":8,"s":"LSTM","x":3,"y":0.05},{"p":8,"s":"LSTM","x":7,"y":0.06},{"p":8,"s":"LSTM","x":11,"y":0.05},{"p":8,"s":"LSTM","x":12,"y":-0.25},{"p":8,"s":"LSTM","x":13,"y":-0.55},{"p":8,"s":"LSTM","x":14,"y":-0.68},{"p":8,"s":"LSTM","x":15,"y":-0.75},{"p":8,"s":"LSTM","x":16,"y":-0.76},{"p":8,"s":"LSTM","x":17,"y":-0.8},{"p":8,"s":"LSTM","x":18,"y":-0.82},{"p":8,"s":"LSTM","x":19,"y":-0.82},{"p":8,"s":"LSTM","x":20,"y":-0.84},{"p":8,"s":"LSTM","x":21,"y":-0.78},{"p":8,"s":"LSTM","x":22,"y":-0.73},{"p":8,"s":"LSTM","x":23,"y":-0.7},{"p":8,"s":"LSTM","x":24,"y":-0.68},{"p":8,"s":"LSTM","x":25,"y":-0.65},
{"p":8,"s":"GRU","x":1,"y":-0.03},{"p":8,"s":"GRU","x":5,"y":-0.02},{"p":8,"s":"GRU","x":11,"y":-0.02},{"p":8,"s":"GRU","x":12,"y":-0.1},{"p":8,"s":"GRU","x":13,"y":-0.3},{"p":8,"s":"GRU","x":14,"y":-0.5},{"p":8,"s":"GRU","x":15,"y":-0.58},{"p":8,"s":"GRU","x":16,"y":-0.5},{"p":8,"s":"GRU","x":17,"y":-0.65},{"p":8,"s":"GRU","x":18,"y":-0.76},{"p":8,"s":"GRU","x":19,"y":-0.82},{"p":8,"s":"GRU","x":20,"y":-0.74},{"p":8,"s":"GRU","x":21,"y":-0.65},{"p":8,"s":"GRU","x":22,"y":-0.6},{"p":8,"s":"GRU","x":23,"y":-0.57},{"p":8,"s":"GRU","x":24,"y":-0.54},{"p":8,"s":"GRU","x":25,"y":-0.5},
{"p":8,"s":"CBA","x":1,"y":-0.2},{"p":8,"s":"CBA","x":2,"y":-0.16},{"p":8,"s":"CBA","x":5,"y":-0.17},{"p":8,"s":"CBA","x":10,"y":-0.17},{"p":8,"s":"CBA","x":11,"y":-0.18},{"p":8,"s":"CBA","x":12,"y":-0.8},{"p":8,"s":"CBA","x":13,"y":-1.07},{"p":8,"s":"CBA","x":14,"y":-1.06},{"p":8,"s":"CBA","x":15,"y":-1.03},{"p":8,"s":"CBA","x":16,"y":-1.02},{"p":8,"s":"CBA","x":17,"y":-1.0},{"p":8,"s":"CBA","x":18,"y":-1.02},{"p":8,"s":"CBA","x":19,"y":-0.97},{"p":8,"s":"CBA","x":20,"y":-0.88},{"p":8,"s":"CBA","x":21,"y":-0.85},{"p":8,"s":"CBA","x":22,"y":-0.8},{"p":8,"s":"CBA","x":23,"y":-0.73},{"p":8,"s":"CBA","x":24,"y":-0.65},{"p":8,"s":"CBA","x":25,"y":-0.55},
{"p":8,"s":"Transformer","x":1,"y":0},{"p":8,"s":"Transformer","x":5,"y":0},{"p":8,"s":"Transformer","x":10,"y":0},{"p":8,"s":"Transformer","x":11,"y":-0.02},{"p":8,"s":"Transformer","x":12,"y":-0.8},{"p":8,"s":"Transformer","x":13,"y":-1.22},{"p":8,"s":"Transformer","x":14,"y":-1.21},{"p":8,"s":"Transformer","x":15,"y":-1.1},{"p":8,"s":"Transformer","x":16,"y":-1.28},{"p":8,"s":"Transformer","x":17,"y":-1.3},{"p":8,"s":"Transformer","x":18,"y":-1.3},{"p":8,"s":"Transformer","x":19,"y":-1.27},{"p":8,"s":"Transformer","x":20,"y":-1.22},{"p":8,"s":"Transformer","x":21,"y":-1.1},{"p":8,"s":"Transformer","x":22,"y":-0.97},{"p":8,"s":"Transformer","x":23,"y":-0.82},{"p":8,"s":"Transformer","x":24,"y":-0.62},{"p":8,"s":"Transformer","x":25,"y":-0.4},
{"p":8,"s":"DLLT","x":1,"y":-0.03},{"p":8,"s":"DLLT","x":5,"y":-0.01},{"p":8,"s":"DLLT","x":10,"y":0},{"p":8,"s":"DLLT","x":11,"y":-0.03},{"p":8,"s":"DLLT","x":12,"y":-1.1},{"p":8,"s":"DLLT","x":13,"y":-1.33},{"p":8,"s":"DLLT","x":14,"y":-1.32},{"p":8,"s":"DLLT","x":15,"y":-1.32},{"p":8,"s":"DLLT","x":16,"y":-1.36},{"p":8,"s":"DLLT","x":17,"y":-1.27},{"p":8,"s":"DLLT","x":18,"y":-1.22},{"p":8,"s":"DLLT","x":19,"y":-1.16},{"p":8,"s":"DLLT","x":20,"y":-1.07},{"p":8,"s":"DLLT","x":21,"y":-1.0},{"p":8,"s":"DLLT","x":22,"y":-0.9},{"p":8,"s":"DLLT","x":23,"y":-0.78},{"p":8,"s":"DLLT","x":24,"y":-0.62},{"p":8,"s":"DLLT","x":25,"y":-0.43},

{"p":9,"s":"Observed","x":1,"y":0},{"p":9,"s":"Observed","x":2,"y":0},{"p":9,"s":"Observed","x":3,"y":0},{"p":9,"s":"Observed","x":4,"y":-3.77},{"p":9,"s":"Observed","x":5,"y":-7.54},{"p":9,"s":"Observed","x":6,"y":-6.18},{"p":9,"s":"Observed","x":7,"y":-1.5},{"p":9,"s":"Observed","x":8,"y":0},{"p":9,"s":"Observed","x":9,"y":0},
{"p":9,"s":"LSTM","x":1,"y":0},{"p":9,"s":"LSTM","x":2,"y":-0.05},{"p":9,"s":"LSTM","x":3,"y":0.05},{"p":9,"s":"LSTM","x":4,"y":0},{"p":9,"s":"LSTM","x":5,"y":-0.4},{"p":9,"s":"LSTM","x":6,"y":-1.1},{"p":9,"s":"LSTM","x":7,"y":-1.6},{"p":9,"s":"LSTM","x":8,"y":-1.8},{"p":9,"s":"LSTM","x":9,"y":-1.55},
{"p":9,"s":"GRU","x":1,"y":0.1},{"p":9,"s":"GRU","x":2,"y":0},{"p":9,"s":"GRU","x":3,"y":0},{"p":9,"s":"GRU","x":4,"y":0.05},{"p":9,"s":"GRU","x":5,"y":-0.1},{"p":9,"s":"GRU","x":6,"y":-0.75},{"p":9,"s":"GRU","x":7,"y":-1.65},{"p":9,"s":"GRU","x":8,"y":-2.1},{"p":9,"s":"GRU","x":9,"y":-1.5},
{"p":9,"s":"CBA","x":1,"y":-0.25},{"p":9,"s":"CBA","x":2,"y":-0.25},{"p":9,"s":"CBA","x":3,"y":-0.28},{"p":9,"s":"CBA","x":4,"y":-0.28},{"p":9,"s":"CBA","x":5,"y":-1.25},{"p":9,"s":"CBA","x":6,"y":-1.95},{"p":9,"s":"CBA","x":7,"y":-2.0},{"p":9,"s":"CBA","x":8,"y":-1.15},{"p":9,"s":"CBA","x":9,"y":-0.95},
{"p":9,"s":"Transformer","x":1,"y":-0.1},{"p":9,"s":"Transformer","x":2,"y":-0.1},{"p":9,"s":"Transformer","x":3,"y":-0.1},{"p":9,"s":"Transformer","x":4,"y":-0.1},{"p":9,"s":"Transformer","x":5,"y":-2.5},{"p":9,"s":"Transformer","x":6,"y":-4.2},{"p":9,"s":"Transformer","x":7,"y":-4.3},{"p":9,"s":"Transformer","x":8,"y":-0.2},{"p":9,"s":"Transformer","x":9,"y":0.1},
{"p":9,"s":"DLLT","x":1,"y":-0.05},{"p":9,"s":"DLLT","x":2,"y":-0.05},{"p":9,"s":"DLLT","x":3,"y":-0.05},{"p":9,"s":"DLLT","x":4,"y":-0.05},{"p":9,"s":"DLLT","x":5,"y":-1.95},{"p":9,"s":"DLLT","x":6,"y":-3.2},{"p":9,"s":"DLLT","x":7,"y":-3.4},{"p":9,"s":"DLLT","x":8,"y":-0.6},{"p":9,"s":"DLLT","x":9,"y":-0.2}
]
},
"data": {"name": "d"},
"columns": 3,
"spacing": {"row": 46, "column": 60},
"bounds": "flush",
"concat": [
{"title": "EV Brake", "width": 186, "height": 117, "transform": [{"filter": "datum.p == 1"}],
 "mark": {"type": "line", "strokeWidth": 2, "clip": true},
 "encoding": {
  "x": {"field": "x", "type": "quantitative", "scale": {"domain": [0, 80], "nice": false}, "axis": {"values": [0, 20, 40, 60, 80], "title": null}},
  "y": {"field": "y", "type": "quantitative", "scale": {"domain": [-20, 20], "nice": false}, "axis": {"values": [-20, 0, 20], "format": "~f", "title": "ePower[kW]"}},
  "color": {"field": "s", "type": "nominal", "scale": {"domain": ["Observed", "LSTM", "GRU", "CBA", "Transformer", "DLLT"], "range": ["#00ffff", "#ff0000", "#00ff00", "#0000ff", "#ff00ff", "#000000"]}, "legend": {"title": null, "orient": "none", "legendX": 578, "legendY": 138}}}},
{"title": "EV+Mechanical Brake", "width": 186, "height": 117, "transform": [{"filter": "datum.p == 2"}],
 "mark": {"type": "line", "strokeWidth": 2, "clip": true},
 "encoding": {
  "x": {"field": "x", "type": "quantitative", "scale": {"domain": [0, 30], "nice": false}, "axis": {"values": [0, 10, 20, 30], "title": null}},
  "y": {"field": "y", "type": "quantitative", "scale": {"domain": [-50, 10], "nice": false}, "axis": {"values": [-40, -20, 0], "format": "~f", "title": "ePower[kW]"}},
  "color": {"field": "s", "type": "nominal", "scale": {"domain": ["Observed", "LSTM", "GRU", "CBA", "Transformer", "DLLT"], "range": ["#00ffff", "#ff0000", "#00ff00", "#0000ff", "#ff00ff", "#000000"]}, "legend": {"title": null, "orient": "none", "legendX": 578, "legendY": 138}}}},
{"title": "Mechanical Brake", "width": 186, "height": 117, "transform": [{"filter": "datum.p == 3"}],
 "mark": {"type": "line", "strokeWidth": 2, "clip": true},
 "encoding": {
  "x": {"field": "x", "type": "quantitative", "scale": {"domain": [0, 10], "nice": false}, "axis": {"values": [0, 5, 10], "title": null}},
  "y": {"field": "y", "type": "quantitative", "scale": {"domain": [-20, 20], "nice": false}, "axis": {"values": [-20, 0, 20], "format": "~f", "title": "ePower[kW]"}},
  "color": {"field": "s", "type": "nominal", "scale": {"domain": ["Observed", "LSTM", "GRU", "CBA", "Transformer", "DLLT"], "range": ["#00ffff", "#ff0000", "#00ff00", "#0000ff", "#ff00ff", "#000000"]}, "legend": {"title": null, "orient": "none", "legendX": 578, "legendY": 138}}}},
{"width": 186, "height": 117, "transform": [{"filter": "datum.p == 4"}],
 "mark": {"type": "line", "strokeWidth": 2, "clip": true},
 "encoding": {
  "x": {"field": "x", "type": "quantitative", "scale": {"domain": [0, 80], "nice": false}, "axis": {"values": [0, 20, 40, 60, 80], "title": null}},
  "y": {"field": "y", "type": "quantitative", "scale": {"domain": [-2.35, 0.15], "nice": false}, "axis": {"values": [-2, -1.5, -1, -0.5, 0], "format": "~f", "title": "FC[L/h]"}},
  "color": {"field": "s", "type": "nominal", "scale": {"domain": ["Observed", "LSTM", "GRU", "CBA", "Transformer", "DLLT"], "range": ["#00ffff", "#ff0000", "#00ff00", "#0000ff", "#ff00ff", "#000000"]}, "legend": {"title": null, "orient": "none", "legendX": 578, "legendY": 138}}}},
{"width": 186, "height": 117, "transform": [{"filter": "datum.p == 5"}],
 "mark": {"type": "line", "strokeWidth": 2, "clip": true},
 "encoding": {
  "x": {"field": "x", "type": "quantitative", "scale": {"domain": [0, 30], "nice": false}, "axis": {"values": [0, 10, 20, 30], "title": null}},
  "y": {"field": "y", "type": "quantitative", "scale": {"domain": [-2, 0.2], "nice": false}, "axis": {"values": [-2, -1.5, -1, -0.5, 0], "format": "~f", "title": "FC[L/h]"}},
  "color": {"field": "s", "type": "nominal", "scale": {"domain": ["Observed", "LSTM", "GRU", "CBA", "Transformer", "DLLT"], "range": ["#00ffff", "#ff0000", "#00ff00", "#0000ff", "#ff00ff", "#000000"]}, "legend": {"title": null, "orient": "none", "legendX": 578, "legendY": 138}}}},
{"width": 186, "height": 117, "transform": [{"filter": "datum.p == 6"}],
 "mark": {"type": "line", "strokeWidth": 2, "clip": true},
 "encoding": {
  "x": {"field": "x", "type": "quantitative", "scale": {"domain": [0, 10], "nice": false}, "axis": {"values": [0, 5, 10], "title": null}},
  "y": {"field": "y", "type": "quantitative", "scale": {"domain": [-2.05, 5.35], "nice": false}, "axis": {"values": [-2, 0, 2, 4], "format": "~f", "title": "FC[L/h]"}},
  "color": {"field": "s", "type": "nominal", "scale": {"domain": ["Observed", "LSTM", "GRU", "CBA", "Transformer", "DLLT"], "range": ["#00ffff", "#ff0000", "#00ff00", "#0000ff", "#ff00ff", "#000000"]}, "legend": {"title": null, "orient": "none", "legendX": 578, "legendY": 138}}}},
{"width": 186, "height": 117, "transform": [{"filter": "datum.p == 7"}],
 "mark": {"type": "line", "strokeWidth": 2, "clip": true},
 "encoding": {
  "x": {"field": "x", "type": "quantitative", "scale": {"domain": [0, 80], "nice": false}, "axis": {"values": [0, 20, 40, 60, 80], "title": "Time[s]"}},
  "y": {"field": "y", "type": "quantitative", "scale": {"domain": [-1, 0.1], "nice": false}, "axis": {"values": [-1, -0.5, 0], "format": "~f", "title": "a[m/s²]"}},
  "color": {"field": "s", "type": "nominal", "scale": {"domain": ["Observed", "LSTM", "GRU", "CBA", "Transformer", "DLLT"], "range": ["#00ffff", "#ff0000", "#00ff00", "#0000ff", "#ff00ff", "#000000"]}, "legend": {"title": null, "orient": "none", "legendX": 578, "legendY": 138}}}},
{"width": 186, "height": 117, "transform": [{"filter": "datum.p == 8"}],
 "mark": {"type": "line", "strokeWidth": 2, "clip": true},
 "encoding": {
  "x": {"field": "x", "type": "quantitative", "scale": {"domain": [0, 30], "nice": false}, "axis": {"values": [0, 10, 20, 30], "title": "Time[s]"}},
  "y": {"field": "y", "type": "quantitative", "scale": {"domain": [-1.5, 0.08], "nice": false}, "axis": {"values": [-1.5, -1, -0.5, 0], "format": "~f", "title": "a[m/s²]"}},
  "color": {"field": "s", "type": "nominal", "scale": {"domain": ["Observed", "LSTM", "GRU", "CBA", "Transformer", "DLLT"], "range": ["#00ffff", "#ff0000", "#00ff00", "#0000ff", "#ff00ff", "#000000"]}, "legend": {"title": null, "orient": "none", "legendX": 578, "legendY": 138}}}},
{"width": 186, "height": 117, "transform": [{"filter": "datum.p == 9"}],
 "mark": {"type": "line", "strokeWidth": 2, "clip": true},
 "encoding": {
  "x": {"field": "x", "type": "quantitative", "scale": {"domain": [0, 10], "nice": false}, "axis": {"values": [0, 5, 10], "title": "Time[s]"}},
  "y": {"field": "y", "type": "quantitative", "scale": {"domain": [-7.55, 0.15], "nice": false}, "axis": {"values": [-6, -4, -2, 0], "format": "~f", "title": "a[m/s²]"}},
  "color": {"field": "s", "type": "nominal", "scale": {"domain": ["Observed", "LSTM", "GRU", "CBA", "Transformer", "DLLT"], "range": ["#00ffff", "#ff0000", "#00ff00", "#0000ff", "#ff00ff", "#000000"]}, "legend": {"title": null, "orient": "none", "legendX": 578, "legendY": 138}}}}
],
"config": {
 "font": "Liberation Sans",
 "view": {"stroke": "#d4d4d4"},
 "axis": {"labelFont": "Liberation Sans", "labelFontSize": 14, "labelFontWeight": "bold", "labelColor": "#262626", "labelFlush": false, "labelOverlap": false, "labelPadding": 3, "ticks": false, "domainColor": "#8c8c8c", "gridColor": "#ebebeb", "titleFont": "Liberation Sans", "titleFontSize": 15, "titleFontWeight": "bold", "titleColor": "#262626"},
 "axisX": {"titlePadding": 1},
 "axisY": {"titlePadding": 1},
 "title": {"font": "Liberation Sans", "fontSize": 14, "fontWeight": "bold", "color": "#262626", "offset": 8},
 "legend": {"labelFont": "Liberation Sans", "labelFontSize": 11.5, "labelFontWeight": "bold", "labelColor": "#262626", "symbolType": "M-2.5,0H2.5", "symbolSize": 144, "symbolStrokeWidth": 2, "symbolOffset": 10, "rowPadding": 0.5, "padding": 3, "fillColor": "white", "strokeColor": "#a0a0a0", "labelOffset": 6}
}
}
